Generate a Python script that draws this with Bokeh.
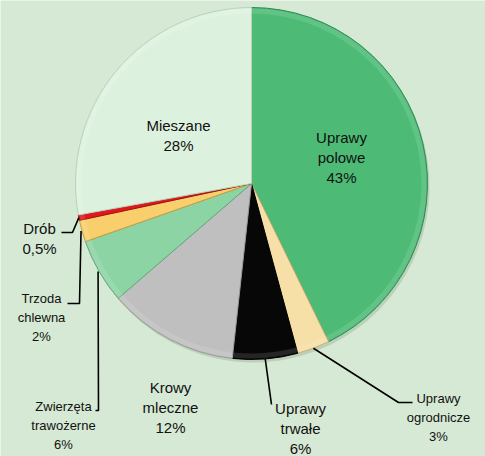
import math
from bokeh.plotting import figure
from bokeh.models import Range1d, ColumnDataSource
from bokeh.core.properties import value
from bokeh.embed import file_html
from bokeh.resources import INLINE

# ---- data ----
categories = ["Uprawy polowe", "Uprawy ogrodnicze", "Uprawy trwałe", "Krowy mleczne",
              "Zwierzęta trawożerne", "Trzoda chlewna", "Drób", "Mieszane"]
shares = [43, 3, 6, 12, 6, 2, 0.5, 28]
pct_labels = ["43%", "3%", "6%", "12%", "6%", "2%", "0,5%", "28%"]
label_text = ["Uprawy\npolowe", "Uprawy\nogrodnicze", "Uprawy\ntrwałe", "Krowy\nmleczne",
              "Zwierzęta\ntrawożerne", "Trzoda\nchlewna", "Drób", "Mieszane"]
colors = ["#4dbb76", "#f7dfa8", "#070707", "#bfbfbf", "#8cd4a4", "#f8cf6c", "#e3161c", "#ddf2de"]
edge_colors = ["#2f8a52", "#c9b07a", "#000000", "#9a9a9a", "#62a97b", "#c9a040", "#a00e12", "#b9d3bb"]

BG = "#d6e9d4"
W, H = 485, 456

def Y(yref):
    return H - yref

cx, cy, R = 251, Y(183), 176

p = figure(width=W, height=H, output_backend="svg", toolbar_location=None,
           x_range=Range1d(0, W), y_range=Range1d(0, H), min_border=0)
p.axis.visible = False
p.grid.visible = False
p.outline_line_color = None
p.background_fill_color = BG
p.border_fill_color = BG

total = sum(shares)
starts, ends, mids = [], [], []
cum = 0.0
for s in shares:
    a0 = math.pi / 2 - 2 * math.pi * cum / total
    cum += s
    a1 = math.pi / 2 - 2 * math.pi * cum / total
    starts.append(a0)
    ends.append(a1)
    mids.append((a0 + a1) / 2)

src = ColumnDataSource(dict(start=starts, end=ends, color=colors, edge=edge_colors))
# slight shadow
p.wedge(x=cx + 2, y=cy - 3, radius=R, start_angle="start", end_angle="end", direction="clock",
        source=src, fill_color="#9fb89d", fill_alpha=0.5, line_color=None)
p.wedge(x=cx, y=cy, radius=R, start_angle="start", end_angle="end", direction="clock",
        source=src, fill_color="color", line_color="edge", line_width=1)
# bevel: lighter inner highlight ring
p.annular_wedge(x=cx, y=cy, inner_radius=R - 6, outer_radius=R - 1, start_angle="start",
                end_angle="end", direction="clock", source=src, fill_color="white",
                fill_alpha=0.12, line_color=None)

def edge_pt(i, r=R):
    return cx + r * math.cos(mids[i]), cy + r * math.sin(mids[i])

# ---- leader lines ----
leaders = []
x0, y0 = edge_pt(1)
leaders.append(([x0, 398, 412], [y0, Y(402), Y(402)]))
x0, y0 = edge_pt(2)
leaders.append(([x0, 271], [y0, Y(404)]))
x0, y0 = edge_pt(4)
leaders.append(([x0 - 1, 98, 95], [y0, Y(410), Y(410)]))
x0, y0 = edge_pt(5)
leaders.append(([x0 - 1, 79, 67], [y0, Y(303), Y(303)]))
x0, y0 = edge_pt(6)
leaders.append(([x0, 72, 61], [y0, Y(232), Y(232)]))
p.multi_line(xs=[l[0] for l in leaders], ys=[l[1] for l in leaders],
             line_color="black", line_width=1.6)

# ---- labels ----
FONT = value("Liberation Sans")
big = dict(text_font=FONT, text_font_size="15px", text_align="center",
           text_baseline="middle", text_color="#111111", text_line_height=1.2)
small = dict(text_font=FONT, text_font_size="13px", text_align="center",
             text_baseline="middle", text_color="#111111", text_line_height=1.24)

full = [label_text[i] + "\n" + pct_labels[i] for i in range(len(categories))]
# (x, y-center of block) in reference pixels
big_idx = [0, 2, 3, 6, 7]
big_pos = {0: (341, 157), 2: (300, 428), 3: (170, 407), 6: (39, 238), 7: (178, 135)}
small_idx = [1, 4, 5]
small_pos = {1: (438, 417), 4: (63, 425), 5: (41, 317)}

p.text(x=[big_pos[i][0] for i in big_idx], y=[Y(big_pos[i][1]) for i in big_idx],
       text=[full[i] for i in big_idx], **big)
p.text(x=[small_pos[i][0] for i in small_idx], y=[Y(small_pos[i][1]) for i in small_idx],
       text=[full[i] for i in small_idx], **small)

open("out.html", "w").write(file_html(p, INLINE))
